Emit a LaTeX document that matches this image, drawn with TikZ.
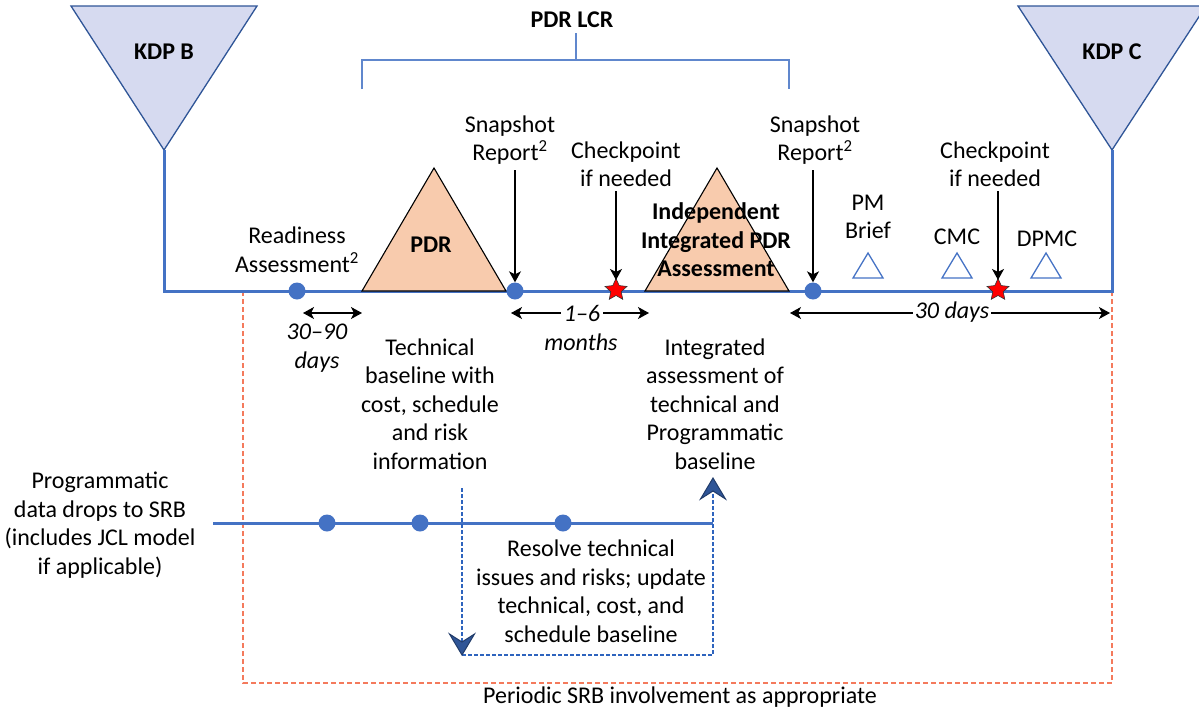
\documentclass[tikz,border=0pt]{standalone}
\usepackage{fontspec}
\setmainfont{Carlito}
\usetikzlibrary{arrows.meta,shapes.geometric}
\definecolor{mainblue}{RGB}{68,114,196}
\definecolor{darkblue}{RGB}{47,85,151}
\definecolor{lav}{RGB}{214,218,240}
\definecolor{peach}{RGB}{248,203,173}
\definecolor{salmon}{RGB}{244,122,92}
\definecolor{dashblue}{RGB}{46,100,190}
\tikzset{
  txt/.style={font=\fontsize{24}{28.5}\selectfont, align=center, inner sep=0pt},
  btxt/.style={txt, font=\fontsize{24}{28.5}\selectfont\bfseries},
  itxt/.style={txt, font=\fontsize{24}{28.5}\selectfont\itshape},
  mainline/.style={draw=mainblue, line width=3pt},
  dot/.style={circle, fill=mainblue, minimum size=17pt, inner sep=0pt},
  redstar/.style={star, star points=5, star point ratio=2.1, fill=red, draw=black!80, line width=0.6pt, minimum size=23pt, inner sep=0pt},
  downarrow/.style={draw=black, line width=1.2pt, -{Stealth[length=11pt,width=12pt,inset=3pt]}},
  dblarrow/.style={draw=black, line width=1.1pt, {Stealth[length=11pt,width=12pt,inset=3pt]}-{Stealth[length=11pt,width=12pt,inset=3pt]}},
  bdash/.style={draw=dashblue, line width=1.3pt, dash pattern=on 4pt off 2pt},
  bhead/.style={draw=darkblue!70!black, fill=darkblue, line width=1pt, line join=miter},
  odash/.style={draw=salmon, line width=2.2pt, dash pattern=on 5pt off 3pt},
  otri/.style={draw=mainblue, line width=1.3pt},
  review/.style={draw=black, line width=1.1pt, fill=peach},
  kdp/.style={draw=darkblue, line width=1.3pt, fill=lav},
  bracket/.style={draw=mainblue!85, line width=1.6pt}
}
\begin{document}
\begin{tikzpicture}[x=1pt,y=-1pt]
\useasboundingbox (0,0) rectangle (1199,712);
\clip (0,0) rectangle (1199,712);

% coordinates
\coordinate (kbA) at (164,150);
\coordinate (kcA) at (1112,150);
\coordinate (kbL) at (164,291);
\coordinate (kcL) at (1112,291);
\coordinate (oTL) at (243,291);
\coordinate (oBL) at (243,683);
\coordinate (oBR) at (1112,683);
\coordinate (oTR) at (1112,291);

% orange dashed loop
\draw[odash] (oTL) -- (oBL) -- (oBR) -- (oTR);

% KDP triangles
\draw[kdp] (71,6) -- (257,6) -- (kbA) -- cycle;
\draw[kdp] (1018,6) -- (1206,6) -- (kcA) -- cycle;
\node[btxt] (kdpb) at (164,52) {KDP B};
\node[btxt] (kdpc) at (1112,52) {KDP C};

% main timeline
\draw[mainline] (kbA) -- (kbL) -- (kcL) -- (kcA);

% PDR LCR bracket
\node[btxt] (lcr) at (572,20) {PDR LCR};
\draw[bracket] (576,33) -- (576,60);
\draw[bracket] (362,89) -- (362,60) -- (789,60) -- (789,89);

% review triangles
\draw[review] (362,291) -- (434,168) -- (506,291) -- cycle;
\draw[review] (645,291) -- (717,168) -- (789,291) -- cycle;
\node[btxt] (pdr) at (431,245) {PDR};
\node[btxt] (iipdr) at (716,240) {Independent\\Integrated PDR\\Assessment};

% outline triangles
\draw[otri] (853,278) -- (868,253) -- (883,278) -- cycle;
\draw[otri] (942,278) -- (957,253) -- (972,278) -- cycle;
\draw[otri] (1031,278) -- (1046,253) -- (1061,278) -- cycle;

% dots on main line
\node[dot] (ra) at (297,291) {};
\node[dot] (s1) at (515,291) {};
\node[dot] (s2) at (813,291) {};
\node[redstar] (c1) at (616,290) {};
\node[redstar] (c2) at (998,290) {};

% labels above
\node[txt] (raT) at (297,250) {Readiness\\Assessment\textsuperscript{2}};
\node[txt] (s1T) at (510,140) {Snapshot\\Report\textsuperscript{2}};
\node[txt] (s2T) at (815,140) {Snapshot\\Report\textsuperscript{2}};
\node[txt] (c1T) at (626,164) {Checkpoint\\if needed};
\node[txt] (c2T) at (995,164) {Checkpoint\\if needed};
\node[txt] (pmT) at (868,217) {PM\\Brief};
\node[txt] (cmcT) at (957,237) {CMC};
\node[txt] (dpmcT) at (1047,239) {DPMC};

% down arrows
\draw[downarrow] (515,170) -- (s1.north);
\draw[downarrow] (813,170) -- (s2.north);
\draw[downarrow] (616,191) -- (616,280);
\draw[downarrow] (998,191) -- (998,280);

% durations
\coordinate (d1a) at (303,313);
\coordinate (d1b) at (362,313);
\draw[dblarrow] (d1a) -- (d1b);
\node[itxt] (d1T) at (317,348) {30–90\\days};
\coordinate (d2a) at (511,313);
\coordinate (d2b) at (649,313);
\draw[dblarrow] (d2a) -- (d2b);
\node[itxt, fill=white, inner xsep=3pt] (d2T) at (582,313) {1–6};
\node[itxt] (d2T2) at (581,342) {months};
\coordinate (d3a) at (790,313);
\coordinate (d3b) at (1110,313);
\draw[dblarrow] (d3a) -- (d3b);
\node[itxt, fill=white, inner xsep=2pt, inner ysep=0pt] (d3T) at (952,312) {30 days};

% description texts
\node[txt] (techT) at (430,404) {Technical\\baseline with\\cost, schedule\\and risk\\information};
\node[txt] (intT) at (715,404) {Integrated\\assessment of\\technical and\\Programmatic\\baseline};

% lower programmatic line
\coordinate (lA) at (213,523);
\coordinate (lB) at (713,523);
\draw[mainline] (lA) -- (lB);
\node[dot] (p1) at (327,523) {};
\node[dot] (p2) at (420,523) {};
\node[dot] (p3) at (563,523) {};
\node[txt] (progT) at (100,525) {Programmatic\\data drops to SRB\\(includes JCL model\\if applicable)};

% blue dashed loop
\coordinate (bd1) at (462,488);
\coordinate (bd2) at (462,655);
\coordinate (bd3) at (713,655);
\coordinate (bd4) at (713,478);
\draw[bdash] (bd1) -- (462,642) (bd2) -- (bd3) -- (713,491);
% arrowheads
\draw[bhead] (bd2) -- ++(-12.5,-21) -- ++(12.5,8) -- ++(12.5,-8) -- cycle;
\draw[bhead] (bd4) -- ++(-12.5,21) -- ++(12.5,-8) -- ++(12.5,8) -- cycle;
\node[txt] (resT) at (591,591) {Resolve technical\\issues and risks; update\\technical, cost, and\\schedule baseline};

\node[txt] (perT) at (680,697) {Periodic SRB involvement as appropriate};
\end{tikzpicture}
\end{document}
